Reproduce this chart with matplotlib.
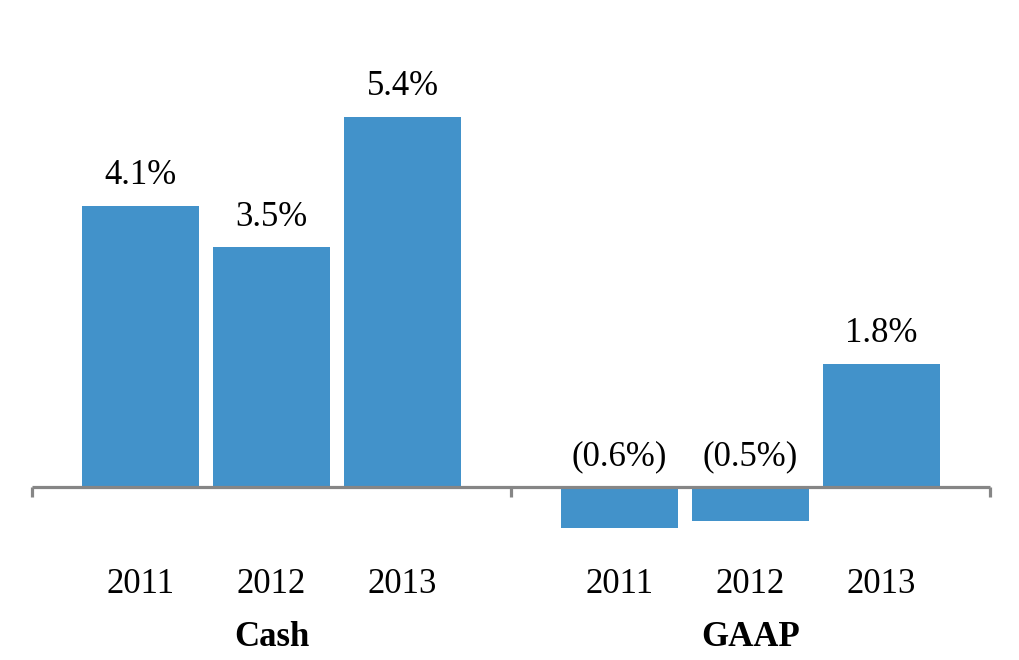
import matplotlib
matplotlib.use("Agg")
import matplotlib.pyplot as plt
import numpy as np

groups = ["Cash", "GAAP"]
years = ["2011", "2012", "2013"]
values = {
    "Cash": [4.1, 3.5, 5.4],
    "GAAP": [-0.6, -0.5, 1.8],
}
labels = {
    "Cash": ["4.1%", "3.5%", "5.4%"],
    "GAAP": ["(0.6%)", "(0.5%)", "1.8%"],
}

plt.rcParams['font.family'] = ['Liberation Serif', 'DejaVu Serif']

fig = plt.figure(figsize=(10.2, 6.6), dpi=100)
ax = fig.add_axes([0, 0, 1, 1])
ax.set_xlim(-32 / 479, 988 / 479)
ax.set_ylim(-173 / 68.5, 487 / 68.5)
ax.axis('off')

color = '#4292CA'
gray = '#868686'
width = 0.2443
step = 0.2735
offsets = (np.arange(len(years)) - 1) * step

for g, grp in enumerate(groups):
    xs = g + 0.5 + offsets
    vals = values[grp]
    ax.bar(xs, vals, width=width, color=color, zorder=2)
    for x, v, lab in zip(xs, vals, labels[grp]):
        y = max(v, 0) + 0.2
        ax.text(x, y, lab, ha='center', va='bottom', fontsize=25, color='black')
    for x, yr in zip(xs, years):
        ax.text(x, -1.43, yr, ha='center', va='center', fontsize=25, color='black')
    ax.text(g + 0.5, -2.19, grp, ha='center', va='center', fontsize=25,
            fontweight='bold', color='black')

# axis line and ticks
ax.plot([0, len(groups)], [0, 0], color=gray, lw=2.3, zorder=3, solid_capstyle='butt')
for t in range(len(groups) + 1):
    ax.plot([t, t], [0, -0.15], color=gray, lw=2.3, zorder=3, solid_capstyle='butt')

fig.savefig("out.png", dpi=100)
